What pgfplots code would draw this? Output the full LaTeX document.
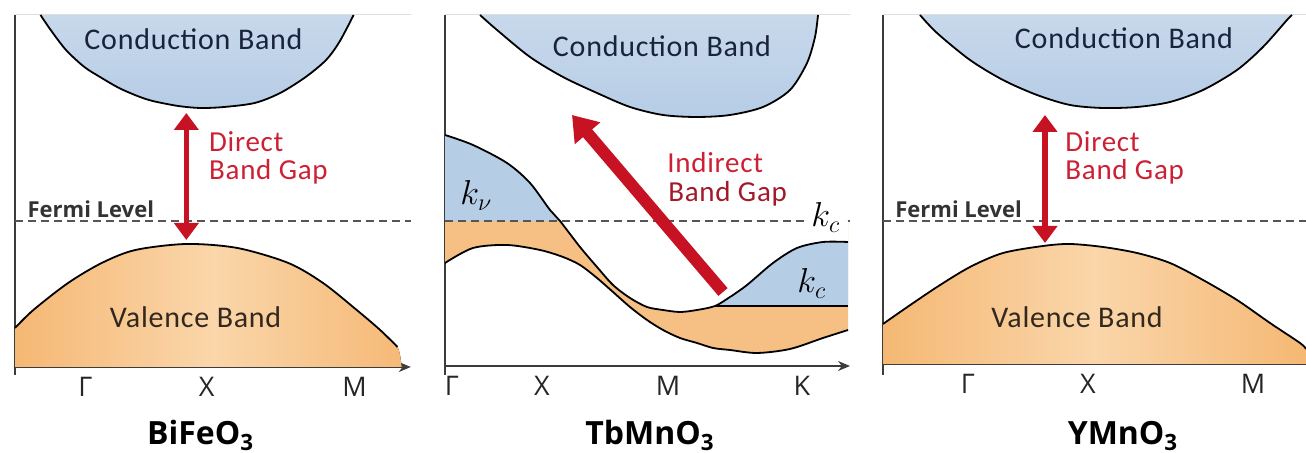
\documentclass[border=0pt]{standalone}
\usepackage{fontspec}
\setmainfont{Carlito}
\newfontfamily\osans{Open Sans}
\newfontfamily\bandfont[LetterSpace=2.5]{Carlito}
\usepackage{pgfplots}
\usepackage{pgfplotstable}
\pgfplotsset{compat=1.18}
\usepgfplotslibrary{fillbetween}
\usetikzlibrary{arrows.meta}

\definecolor{cbblue}{RGB}{182,205,230}
\definecolor{cbtop}{RGB}{200,216,235}
\definecolor{vborange}{RGB}{245,184,116}
\definecolor{vblight}{RGB}{250,214,170}
\definecolor{vbmid}{RGB}{246,192,132}
\definecolor{arrred}{RGB}{198,18,34}
\definecolor{txtred}{RGB}{205,32,52}
\definecolor{axgray}{RGB}{60,60,60}
\definecolor{dashgray}{RGB}{85,85,85}
\definecolor{cbtext}{RGB}{25,35,60}
\definecolor{vbtext}{RGB}{50,40,30}

% ---- panel 1 (BiFeO3) ----
\pgfplotstableread{
x y
40 438
50 423
65 403
83 386
100 375
117 365
135 357
150 352
175 347
197 345
220 346
250 350
275 360
300 376
320 393
333 411
347 438
}\cbA
\pgfplotstableread{
x y
15 125
33 143
67 170
100 190
133 203
183 209
233 205
283 190
317 170
350 143
373 123
390 106
394 86
}\vbA
% ---- panel 2 (TbMnO3) ----
\pgfplotstableread{
x y
480 438
497 423
530 396
563 376
597 360
630 346
663 338
697 336
730 338
763 346
790 363
807 390
815 416
818 438
}\cbB
\pgfplotstableread{
x y
445 318
473 308
507 290
530 270
550 243
560 232
580 206
597 186
613 168
630 155
647 146
663 143
680 141
697 143
715 147
730 156
747 168
773 190
797 205
823 211
848 211
}\upB
\pgfplotstableread{
x y
445 190
473 205
507 208
540 203
563 196
580 188
597 175
613 161
630 146
647 133
663 123
680 115
697 110
713 105
730 103
757 100
790 104
823 115
848 123
}\loB
% ---- panel 3 (YMnO3) ----
\pgfplotstableread{
x y
920 438
937 420
970 393
1003 373
1037 358
1070 348
1103 345
1137 346
1170 351
1203 363
1237 383
1263 406
1287 433
1292 438
}\cbC
\pgfplotstableread{
x y
883 129
903 143
937 166
970 186
1003 200
1043 207
1070 209
1103 206
1137 200
1170 190
1203 173
1237 153
1270 130
1300 110
1306 104
}\vbC

\pgfplotsset{panel/.style={
  scale only axis, clip=false, anchor=south west,
  axis x line=bottom, axis y line=left,
  axis line style={axgray, line width=0.75pt},
  y axis line style={-},
  ytick=\empty, major tick length=0pt,
  xticklabel style={font=\osans\fontsize{13.5}{14}\selectfont, anchor=base, inner sep=0pt, yshift=-15pt, text=black!85},
}}
\tikzset{
  bandline/.style={black, line width=0.9pt, smooth},
  fermi/.style={dashgray, line width=0.65pt, dash pattern=on 4pt off 2.5pt},
  cbfont/.style={font=\bandfont\fontsize{15}{17}\selectfont, text=cbtext, anchor=base, inner sep=0pt},
  vbfont/.style={font=\bandfont\fontsize{15}{17}\selectfont, text=vbtext, anchor=base, inner sep=0pt},
  redfont/.style={font=\bandfont\fontsize{14.5}{16}\selectfont, text=txtred, anchor=base west, inner sep=0pt},
  title/.style={font=\osans\bfseries\fontsize{16}{18}\selectfont, anchor=base, inner sep=0pt},
  fermifont/.style={font=\osans\bfseries\fontsize{11}{12}\selectfont, text=black!80, anchor=base west, inner sep=0pt},
  kfont/.style={font=\fontsize{18}{20}\selectfont, anchor=base west, inner sep=0pt},
}

\begin{document}
\begin{tikzpicture}

% ================= Panel 1 =================
\begin{axis}[panel, at={(7.5pt,43pt)}, width=194pt, height=176pt,
  xmin=15, xmax=403, ymin=86, ymax=438,
  xtick={84,203,348}, xticklabels={Γ,X,M},
  x axis line style={-{Stealth[length=6pt,width=5pt]}}]
\addplot[draw=none, smooth, name path=cbA] table {\cbA};
\path[name path=topA] (axis cs:15,438) -- (axis cs:403,438);
\addplot[top color=cbtop, bottom color=cbblue] fill between[of=cbA and topA];
\addplot[draw=none, smooth, name path=vbA] table {\vbA};
\path[name path=baseA] (axis cs:15,86) -- (axis cs:403,86);
\addplot[left color=vborange, right color=vborange, middle color=vblight] fill between[of=vbA and baseA];
\addplot[bandline] table {\cbA};
\addplot[bandline, restrict x to domain=15:391] table {\vbA};
\draw[axgray, line width=0.75pt] (axis cs:15,86) -- (axis cs:15,78);
\draw[fermi] (axis cs:15,232) -- (axis cs:403,232);
\node[fermifont] at (axis cs:27,235) {Fermi Level};
\draw[arrred, line width=2.6pt, {Triangle[width=12pt,length=8.5pt]}-{Triangle[width=12pt,length=8.5pt]}] (axis cs:183,213) -- (axis cs:183,340);
\node[cbfont] at (axis cs:190,403) {Conduction Band};
\node[vbfont] at (axis cs:192,125) {Valence Band};
\node[redfont] at (axis cs:205,301) {Direct};
\node[redfont] at (axis cs:205,273) {Band Gap};
\node[title] at (axis cs:197,8) {BiFeO\textsubscript{3}};
\end{axis}

% ================= Panel 2 =================
\begin{axis}[panel, at={(222.5pt,43.5pt)}, width=202.5pt, height=175.5pt,
  xmin=445, xmax=850, ymin=87, ymax=438,
  xtick={452,542,668,802}, xticklabels={Γ,X,M,K},
  x axis line style={-{Stealth[length=6pt,width=5pt]}}]
\addplot[draw=none, smooth, name path=cbB] table {\cbB};
\path[name path=topB] (axis cs:445,438) -- (axis cs:850,438);
\addplot[top color=cbtop, bottom color=cbblue] fill between[of=cbB and topB];
% valence / k regions
\addplot[draw=none, smooth, name path=L] table {\loB};
\addplot[draw=none, smooth, restrict x to domain=445:560, name path=Ua] table {\upB};
\addplot[draw=none, smooth, restrict x to domain=560:848, name path=Ub] table {\upB};
\addplot[draw=none, smooth, restrict x to domain=715:848, name path=Uc] table {\upB};
\path[name path=D] (axis cs:445,232) -- (axis cs:848,232);
\path[name path=Da] (axis cs:445,232) -- (axis cs:560,232);
\path[name path=Db] (axis cs:560,232) -- (axis cs:848,232);
\path[name path=H] (axis cs:715,147) -- (axis cs:848,147);
\addplot[vbmid] fill between[of=D and L];
\addplot[cbblue] fill between[of=Ua and Da];
\addplot[white] fill between[of=Ub and Db];
\addplot[cbblue] fill between[of=Uc and H];
\addplot[bandline] table {\cbB};
\addplot[bandline] table {\upB};
\addplot[bandline] table {\loB};
\draw[black, line width=0.9pt] (axis cs:715,147) -- (axis cs:848,147);
\draw[axgray, line width=0.75pt] (axis cs:445,87) -- (axis cs:445,78);
\draw[fermi] (axis cs:445,232) -- (axis cs:850,232);
\draw[arrred, line width=6pt, -{Triangle[width=16pt,length=12pt]}] (axis cs:723,161) -- (axis cs:572,338);
\node[cbfont] at (axis cs:662,396) {Conduction Band};
\node[redfont] at (axis cs:667,280) {Indirect};
\node[redfont, text=txtred!80!black] at (axis cs:668,251) {Band Gap};
\node[kfont] at (axis cs:460,248) {$k_{\nu}$};
\node[kfont, fill=white, inner sep=1.5pt] at (axis cs:808,226) {$k_{c}$};
\node[kfont] at (axis cs:797,160) {$k_{c}$};
\node[title] at (axis cs:650,8) {TbMnO\textsubscript{3}};
\end{axis}

% ================= Panel 3 =================
\begin{axis}[panel, at={(441.5pt,44.5pt)}, width=211.5pt, height=174.5pt,
  xmin=883, xmax=1306, ymin=89, ymax=438,
  xtick={968,1088,1253}, xticklabels={Γ,X,M},
  x axis line style={-}]
\addplot[draw=none, smooth, name path=cbC] table {\cbC};
\path[name path=topC] (axis cs:883,438) -- (axis cs:1306,438);
\addplot[top color=cbtop, bottom color=cbblue] fill between[of=cbC and topC];
\addplot[draw=none, smooth, name path=vbC] table {\vbC};
\path[name path=baseC] (axis cs:883,89) -- (axis cs:1306,89);
\addplot[left color=vborange, right color=vborange, middle color=vblight] fill between[of=vbC and baseC];
\addplot[bandline] table {\cbC};
\addplot[bandline] table {\vbC};
\draw[axgray, line width=0.75pt] (axis cs:883,89) -- (axis cs:883,78);
\draw[fermi] (axis cs:883,232) -- (axis cs:1306,232);
\node[fermifont] at (axis cs:895,235) {Fermi Level};
\draw[arrred, line width=2.6pt, {Triangle[width=12pt,length=8.5pt]}-{Triangle[width=12pt,length=8.5pt]}] (axis cs:1045,210) -- (axis cs:1045,338);
\node[cbfont] at (axis cs:1124,404) {Conduction Band};
\node[vbfont] at (axis cs:1077,125) {Valence Band};
\node[redfont] at (axis cs:1065,301) {Direct};
\node[redfont] at (axis cs:1065,273) {Band Gap};
\node[title] at (axis cs:1123,8) {YMnO\textsubscript{3}};
\end{axis}
\pgfresetboundingbox
\useasboundingbox (0,0) rectangle (653pt,226.5pt);
\end{tikzpicture}
\end{document}
